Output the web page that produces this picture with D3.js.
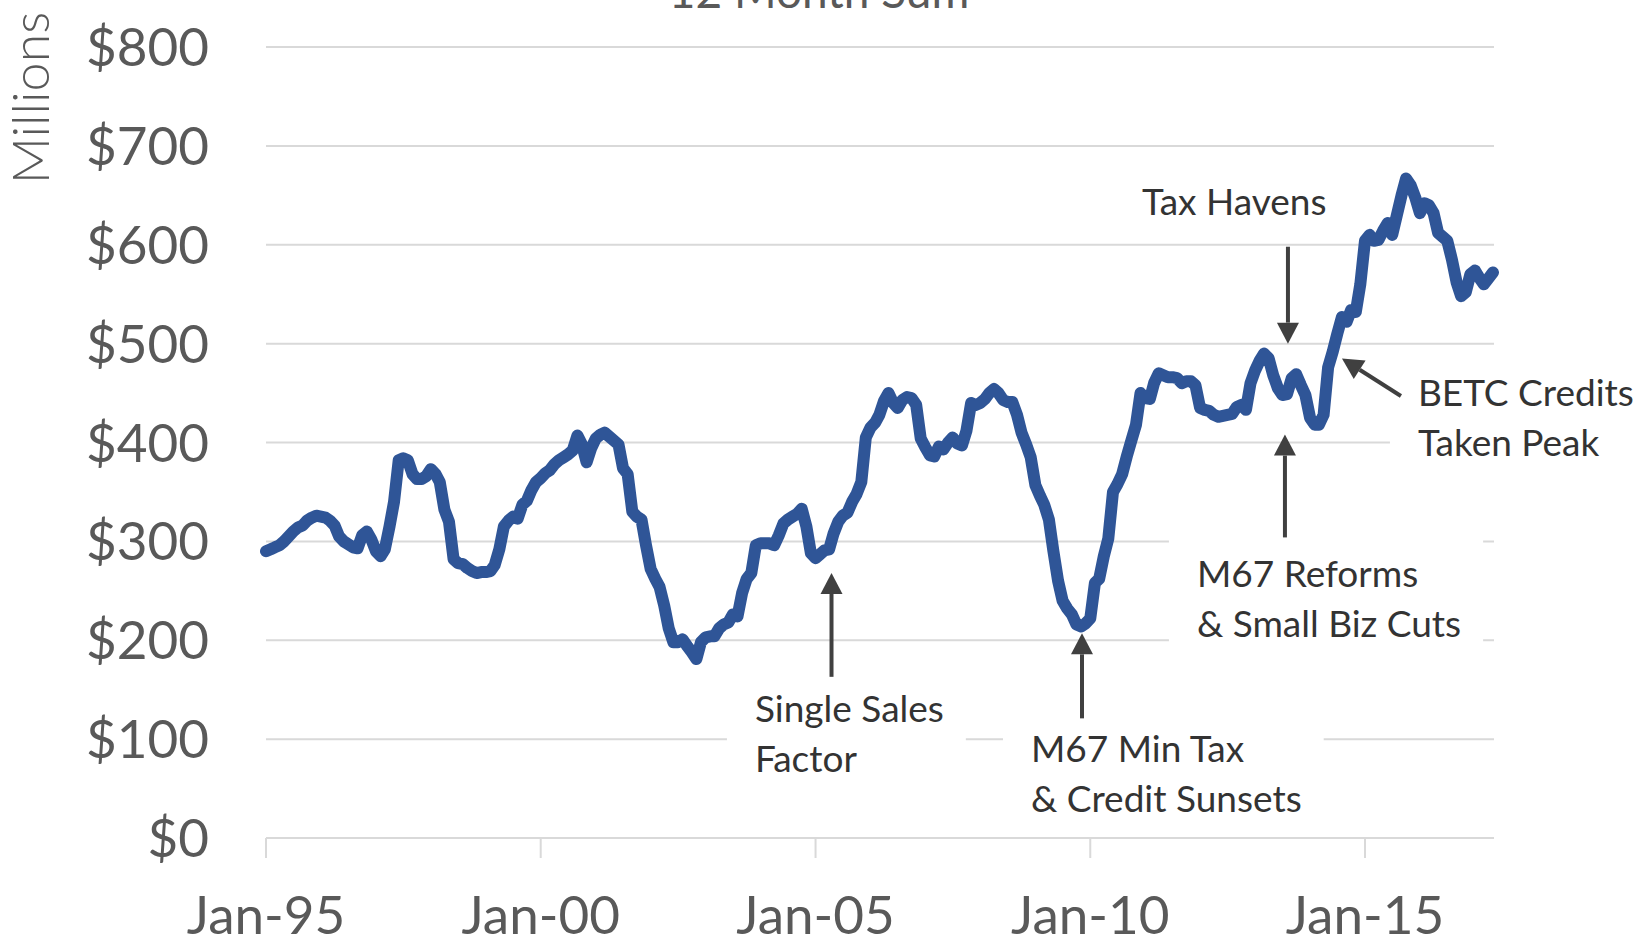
<!DOCTYPE html>
<html>
<head>
<meta charset="utf-8">
<script src="https://cdn.jsdelivr.net/npm/d3@7"></script>
<style>
  body { margin: 0; background: #fff; }
  svg { display: block; font-family: Lato, 'Open Sans', sans-serif; }
  .axis-label { fill: #595959; font-size: 53px; }
  .note { fill: #333; font-size: 37px; }
</style>
</head>
<body>
<svg id="chart"></svg>
<script>
// monthly 12 month sum, millions, starting Jan 1995
const startYear = 1995;
const revenue = [
  290, 292, 294, 296, 300, 305, 310, 314, 316, 321, 324, 326,
  325, 324, 321, 316, 305, 300, 297, 294, 293, 306, 310, 302,
  290, 285, 292, 315, 340, 382, 384, 382, 368, 363, 363, 366,
  373, 368, 360, 332, 320, 282, 278, 277, 273, 270, 268, 269,
  269, 270, 276, 292, 315, 321, 325, 323, 337, 341, 352, 360,
  364, 369, 372, 378, 382, 385, 388, 392, 407, 398, 380, 394,
  404, 408, 410, 406, 402, 398, 374, 368, 330, 325, 322, 296,
  272, 262, 254, 235, 212, 198, 198, 201, 194, 188, 181, 198,
  203, 204, 204, 212, 216, 218, 226, 224, 248, 262, 268, 296,
  298, 298, 298, 296, 306, 318, 322, 325, 328, 333, 315, 288,
  283, 287, 291, 292, 308, 320, 326, 329, 340, 348, 360, 405,
  415, 420, 428, 442, 450, 440, 435, 443, 446, 445, 438, 404,
  395, 387, 386, 396, 393, 400, 405, 399, 397, 412, 440, 438,
  440, 444, 450, 454, 450, 443, 441, 441, 428, 410, 398, 385,
  357, 346, 337, 322, 290, 260, 240, 232, 226, 216, 214, 217,
  222, 258, 262, 285, 303, 350, 358, 368, 386, 402, 418, 450,
  445, 444, 460, 470, 468, 466, 466, 465, 460, 462, 462, 458,
  435, 433, 432, 428, 426, 427, 428, 429, 436, 438, 433, 460,
  473, 483, 490, 485, 468, 455, 448, 449, 465, 469, 458, 448,
  425, 418, 418, 428, 476, 492, 510, 527, 522, 534, 532, 560,
  604, 610, 604, 605, 614, 622, 610, 630, 650, 667, 660, 648,
  632, 642, 640, 632, 612, 608, 604, 585, 562, 548, 552, 570,
  574, 566, 560, 566, 572
];

const yTicks = [0, 100, 200, 300, 400, 500, 600, 700, 800];
const xTickYears = [1995, 2000, 2005, 2010, 2015];

// annotations: text lines, text anchor, arrow tail and arrow tip (date, value)
const noteLines = [
  ['Tax Havens'],
  ['BETC Credits', 'Taken Peak'],
  ['M67 Reforms', '& Small Biz Cuts'],
  ['Single Sales', 'Factor'],
  ['M67 Min Tax', '& Credit Sunsets']
];
const noteText = [['2010-12-11', 630], ['2015-12-19', 437], ['2011-12-11', 254], ['2003-11-25', 117], ['2008-12-03', 77]];
const noteTail = [['2013-08-07', 598], ['2015-08-28', 447], ['2013-07-18', 304], ['2005-04-17', 163], ['2009-11-07', 121]];
const noteTip = [['2013-08-07', 500], ['2014-08-01', 485], ['2013-07-18', 408], ['2005-04-17', 268], ['2009-11-07', 207]];

class LineChart {

	constructor(_config, _data) {
		this.config = {
			parentElement: _config.parentElement,
			containerWidth: _config.containerWidth || 1638,
			containerHeight: _config.containerHeight || 939,
			margin: _config.margin || { top: 47, right: 145, bottom: 101, left: 266 }
		}
		this.data = _data;
		this.initVis();
	}

	initVis() {
		let vis = this;

		vis.width = vis.config.containerWidth - vis.config.margin.left - vis.config.margin.right;
		vis.height = vis.config.containerHeight - vis.config.margin.top - vis.config.margin.bottom;

		vis.xScale = d3.scaleTime()
			.domain(d3.extent(vis.data, d => d.date))
			.range([0, vis.width]);

		vis.yScale = d3.scaleLinear()
			.domain([0, 800])
			.range([vis.height, 0]);

		vis.svg = d3.select(vis.config.parentElement)
			.attr('width', vis.config.containerWidth)
			.attr('height', vis.config.containerHeight);

		// title, mostly cut off at the top edge
		vis.svg.append('text')
			.text('12 Month Sum')
			.attr('x', vis.config.containerWidth / 2)
			.attr('y', 8)
			.attr('text-anchor', 'middle')
			.style('fill', '#595959')
			.style('font-size', '46px');

		// y axis title
		vis.svg.append('text')
			.text('Millions')
			.attr('text-anchor', 'middle')
			.attr('transform', `translate(49, 98) rotate(-90)`)
			.style('fill', '#595959')
			.style('font-size', '52px')
			.style('font-weight', 300);

		vis.chart = vis.svg.append('g')
			.attr('transform', `translate(${vis.config.margin.left},${vis.config.margin.top})`);

		vis.gridG = vis.chart.append('g');
		vis.boxG = vis.chart.append('g');
		vis.lineG = vis.chart.append('g');
		vis.noteG = vis.chart.append('g');

		this.renderVis();
	}

	renderVis() {
		let vis = this;

		// horizontal gridlines
		vis.gridG.selectAll('.grid')
			.data(yTicks)
			.join('line')
			.attr('class', 'grid')
			.attr('x1', 0)
			.attr('x2', vis.width + 1)
			.attr('y1', d => vis.yScale(d))
			.attr('y2', d => vis.yScale(d))
			.attr('stroke', '#d9d9d9')
			.attr('stroke-width', 2);

		vis.gridG.selectAll('.y-label')
			.data(yTicks)
			.join('text')
			.attr('class', 'axis-label y-label')
			.attr('x', -57)
			.attr('y', d => vis.yScale(d))
			.attr('dy', '0.36em')
			.attr('text-anchor', 'end')
			.text(d => '$' + d);

		// x ticks and labels
		const xTicks = xTickYears.map(y => new Date(y, 0, 1));
		const fmt = d3.timeFormat('%b-%y');

		vis.gridG.selectAll('.x-tick')
			.data(xTicks)
			.join('line')
			.attr('class', 'x-tick')
			.attr('x1', d => vis.xScale(d))
			.attr('x2', d => vis.xScale(d))
			.attr('y1', vis.height)
			.attr('y2', vis.height + 20)
			.attr('stroke', '#d9d9d9')
			.attr('stroke-width', 2);

		vis.gridG.selectAll('.x-label')
			.data(xTicks)
			.join('text')
			.attr('class', 'axis-label x-label')
			.attr('x', d => vis.xScale(d))
			.attr('y', vis.height + 96)
			.attr('text-anchor', 'middle')
			.text(d => fmt(d));

		// the series
		const line = d3.line()
			.x(d => vis.xScale(d.date))
			.y(d => vis.yScale(d.value));

		vis.lineG.append('path')
			.datum(vis.data)
			.attr('d', line)
			.attr('fill', 'none')
			.attr('stroke', '#2f5597')
			.attr('stroke-width', 12)
			.attr('stroke-linejoin', 'round')
			.attr('stroke-linecap', 'round');

		// annotations with white boxes behind the text
		const parse = d3.timeParse('%Y-%m-%d');
		const px = p => [vis.xScale(parse(p[0])), vis.yScale(p[1])];

		noteLines.forEach((lines, i) => {
			const [tx, ty] = px(noteText[i]);
			const t = vis.noteG.append('text')
				.attr('class', 'note')
				.attr('x', tx)
				.attr('y', ty);
			lines.forEach((l, j) => {
				t.append('tspan')
					.attr('x', tx)
					.attr('y', ty + j * 50)
					.text(l);
			});

			if (i > 0) {
				const bb = t.node().getBBox();
				vis.boxG.append('rect')
					.attr('x', bb.x - 28)
					.attr('y', bb.y - 10)
					.attr('width', bb.width + 50)
					.attr('height', bb.height + 20)
					.attr('fill', '#fff');
			}

			// arrow
			const [x1, y1] = px(noteTail[i]);
			const [x2, y2] = px(noteTip[i]);
			const ang = Math.atan2(y2 - y1, x2 - x1);
			const headLen = 21, headW = 11;
			const bx = x2 - headLen * Math.cos(ang), by = y2 - headLen * Math.sin(ang);
			vis.noteG.append('line')
				.attr('x1', x1).attr('y1', y1)
				.attr('x2', bx).attr('y2', by)
				.attr('stroke', '#404040')
				.attr('stroke-width', 4);
			const nx = -Math.sin(ang) * headW, ny = Math.cos(ang) * headW;
			vis.noteG.append('path')
				.attr('d', `M${x2},${y2}L${bx + nx},${by + ny}L${bx - nx},${by - ny}Z`)
				.attr('fill', '#404040');
		});
	}
}

const series = revenue.map((v, i) => ({ date: new Date(startYear, i, 1), value: v }));
new LineChart({ parentElement: '#chart' }, series);
</script>
</body>
</html>
